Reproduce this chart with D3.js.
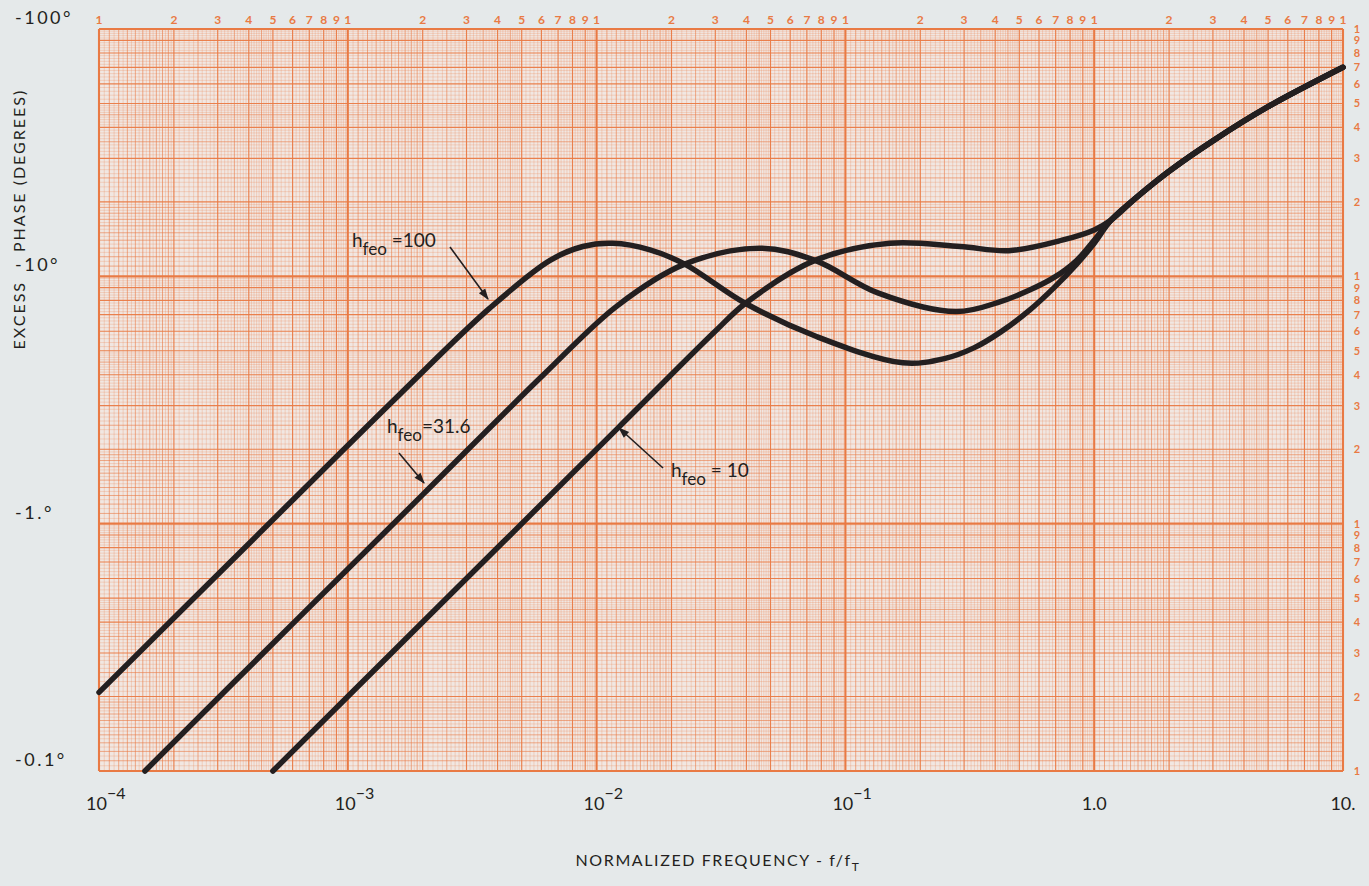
<!DOCTYPE html>
<meta charset="utf-8" />
<script src="https://d3js.org/d3.v7.min.js"></script>
<body style="margin:0;background:#e5e9ea">
  <div id="chart"></div>

  <script>
    // values (frequency is f/fT, phase is degrees, shown negative)
    var freq100 = [1e-4, 4e-4, 1.6e-3, 3.7e-3, 6.5e-3, 8.8e-3, 0.0116, 0.0164, 0.0226, 0.0394, 0.0769, 0.17, 0.25, 0.33, 0.42, 0.55, 0.69, 0.85, 1.0, 1.17, 1.5, 2.0, 3.0, 5.0, 10];
    var phase100 = [0.208, 0.83, 3.3, 7.4, 11.6, 13.2, 13.6, 12.8, 11.2, 7.8, 5.7, 4.47, 4.65, 5.15, 5.95, 7.3, 9.0, 11.2, 13.6, 16.9, 21.1, 26.6, 35.3, 48.5, 70];

    var freq31 = [1.53e-4, 6.4e-4, 2.0e-3, 6.1e-3, 0.0121, 0.0226, 0.0454, 0.0755, 0.135, 0.278, 0.42, 0.55, 0.69, 0.85, 1.0, 1.17, 1.5, 2.0, 3.0, 5.0, 10];
    var phase31 = [0.1, 0.42, 1.31, 3.99, 7.6, 11.2, 13.0, 11.6, 8.57, 7.2, 7.9, 8.8, 9.9, 11.6, 14.0, 16.9, 21.1, 26.6, 35.3, 48.5, 70];

    var freq10 = [5.0e-4, 1.6e-3, 0.0122, 0.0299, 0.0398, 0.0755, 0.151, 0.289, 0.454, 0.743, 1.0, 1.17, 1.5, 2.0, 3.0, 5.0, 10];
    var phase10 = [0.1, 0.32, 2.44, 5.98, 7.8, 11.6, 13.6, 13.2, 12.7, 14.0, 15.4, 16.9, 21.1, 26.6, 35.3, 48.5, 70];

    var xTickValues = [1e-4, 1e-3, 1e-2, 1e-1, 1, 10];
    var xTickBase = ["10", "10", "10", "10", "1.0", "10."];
    var xTickExp = ["\u22124", "\u22123", "\u22122", "\u22121", "", ""];
    var yTickValues = [0.1, 1, 10, 100];
    var yTickLabels = ["-0.1\u00b0", "-1.\u00b0", "-10\u00b0", "-100\u00b0"];
    var cycleDigits = ["2", "3", "4", "5", "6", "7", "8", "9"];

    var width = 1369, height = 886;
    var margin = { top: 29, right: 26, bottom: 115, left: 99 };
    var orange = "#e97a44";
    var ink = "#231f20";

    var svg = d3.select("#chart").append("svg")
      .attr("width", width)
      .attr("height", height)
      .style("font-family", "Lato, 'DejaVu Sans', sans-serif");

    var x = d3.scaleLog().domain([1e-4, 10]).range([margin.left, width - margin.right]);
    var y = d3.scaleLog().domain([0.1, 100]).range([height - margin.bottom, margin.top]);

    svg.append("rect")
      .attr("x", x(1e-4)).attr("y", y(100))
      .attr("width", x(10) - x(1e-4))
      .attr("height", y(0.1) - y(100))
      .attr("fill", "#f1e7e2");

    // log paper rulings: level 3 decade, 2 integer, 1 medium, 0 fine
    function rulings(lo, hi) {
      var out = [];
      for (var d = lo; d < hi; d++) {
        var base = Math.pow(10, d);
        for (var k = 100; k < 1000; ) {
          var lvl = 0;
          if (k === 100) lvl = 3;
          else if (k % 100 === 0) lvl = 2;
          else if (k < 200 && k % 10 === 0) lvl = 1;
          else if (k >= 200 && k < 500 && k % 50 === 0) lvl = 1;
          out.push({ v: base * k / 100, lvl: lvl });
          k += k < 200 ? 5 : k < 500 ? 10 : 20;
        }
      }
      out.push({ v: Math.pow(10, hi), lvl: 3 });
      return out;
    }
    var sw = [0.45, 0.75, 1.15, 2.1];
    var op = [0.55, 0.8, 0.95, 1];

    var grid = svg.append("g");
    grid.selectAll(".vx")
      .data(rulings(-4, 1))
      .enter().append("line")
      .attr("x1", function (d) { return x(d.v); })
      .attr("x2", function (d) { return x(d.v); })
      .attr("y1", y(0.1)).attr("y2", y(100))
      .attr("stroke", orange)
      .attr("stroke-width", function (d) { return sw[d.lvl]; })
      .attr("stroke-opacity", function (d) { return op[d.lvl]; });
    grid.selectAll(".hy")
      .data(rulings(-1, 2))
      .enter().append("line")
      .attr("y1", function (d) { return y(d.v); })
      .attr("y2", function (d) { return y(d.v); })
      .attr("x1", x(1e-4)).attr("x2", x(10))
      .attr("stroke", orange)
      .attr("stroke-width", function (d) { return sw[d.lvl]; })
      .attr("stroke-opacity", function (d) { return op[d.lvl]; });

    // orange cycle numbers on top and right
    var topLab = svg.append("g")
      .attr("fill", orange)
      .attr("font-size", 12)
      .attr("font-weight", "bold")
      .attr("text-anchor", "middle");
    for (var d = -4; d <= 1; d++) {
      var b = Math.pow(10, d);
      topLab.append("text").attr("x", x(b)).attr("y", 24).text("1");
      if (d < 1) {
        cycleDigits.forEach(function (t) {
          topLab.append("text").attr("x", x(b * +t)).attr("y", 24).text(t);
        });
      }
    }
    var rightLab = svg.append("g")
      .attr("fill", orange)
      .attr("font-size", 11)
      .attr("font-weight", "bold")
      .attr("text-anchor", "middle");
    for (var e = -1; e <= 2; e++) {
      var c = Math.pow(10, e);
      rightLab.append("text").attr("x", 1357).attr("y", y(c) + 4).text("1");
      if (e < 2) {
        cycleDigits.forEach(function (t) {
          rightLab.append("text").attr("x", 1357).attr("y", y(c * +t) + 4).text(t);
        });
      }
    }

    // curves
    var line = d3.line()
      .x(function (d) { return x(d[0]); })
      .y(function (d) { return y(d[1]); })
      .curve(d3.curveCatmullRom.alpha(0.5));

    var series = [d3.zip(freq100, phase100), d3.zip(freq31, phase31), d3.zip(freq10, phase10)];
    svg.append("g").selectAll("path")
      .data(series)
      .enter().append("path")
      .attr("d", line)
      .attr("fill", "none")
      .attr("stroke", ink)
      .attr("stroke-width", 5.5)
      .attr("stroke-linecap", "round");

    // axis labels
    svg.append("g").selectAll("text")
      .data(yTickValues)
      .enter().append("text")
      .attr("x", 15)
      .attr("y", function (d) { return y(d) - 5; })
      .attr("font-size", 18)
      .attr("letter-spacing", 2.5)
      .attr("fill", ink)
      .text(function (d, i) { return yTickLabels[i]; });

    var xl = svg.append("g").selectAll("text")
      .data(xTickValues)
      .enter().append("text")
      .attr("x", function (d) { return x(d); })
      .attr("y", 810)
      .attr("font-size", 18)
      .attr("fill", ink)
      .attr("text-anchor", function (d, i) { return xTickExp[i] ? "start" : "middle"; })
      .attr("dx", function (d, i) { return xTickExp[i] ? -13 : 0; });
    xl.append("tspan").text(function (d, i) { return xTickBase[i]; });
    xl.append("tspan")
      .attr("dy", -11)
      .attr("font-size", 16)
      .text(function (d, i) { return xTickExp[i]; });

    // y title, split so the -10° label sits in the gap
    svg.append("text")
      .attr("transform", "translate(25,281) rotate(-90)")
      .attr("text-anchor", "end")
      .attr("font-size", 16)
      .attr("letter-spacing", 2)
      .attr("fill", ink)
      .text("EXCESS");
    svg.append("text")
      .attr("transform", "translate(25,252) rotate(-90)")
      .attr("text-anchor", "start")
      .attr("font-size", 16)
      .attr("letter-spacing", 2)
      .attr("fill", ink)
      .text("PHASE  (DEGREES)");

    var xt = svg.append("text")
      .attr("x", 718)
      .attr("y", 866)
      .attr("text-anchor", "middle")
      .attr("font-size", 16)
      .attr("letter-spacing", 1.6)
      .attr("fill", ink);
    xt.append("tspan").text("NORMALIZED FREQUENCY - f/f");
    xt.append("tspan").attr("dy", 5).attr("font-size", 12).text("T");

    // curve labels with arrows
    svg.append("defs").append("marker")
      .attr("id", "head")
      .attr("viewBox", "0 0 10 10")
      .attr("refX", 9).attr("refY", 5)
      .attr("markerWidth", 9).attr("markerHeight", 7)
      .attr("orient", "auto")
      .append("path")
      .attr("d", "M0,1.5L10,5L0,8.5z")
      .attr("fill", ink);

    var notes = [
      { tx: 352, ty: 247, num: " =100", ax1: 450, ay1: 247, ax2: 488, ay2: 299 },
      { tx: 387, ty: 433, num: "=31.6", ax1: 399, ay1: 453, ax2: 424, ay2: 483 },
      { tx: 671, ty: 477, num: " = 10", ax1: 663, ay1: 468, ax2: 619, ay2: 428 }
    ];
    var ng = svg.append("g").attr("fill", ink);
    notes.forEach(function (n) {
      var t = ng.append("text").attr("x", n.tx).attr("y", n.ty).attr("font-size", 19);
      t.append("tspan").text("h");
      t.append("tspan").attr("dy", 8).attr("font-size", 17).text("feo");
      t.append("tspan").attr("dy", -8).text(n.num);
      ng.append("line")
        .attr("x1", n.ax1).attr("y1", n.ay1)
        .attr("x2", n.ax2).attr("y2", n.ay2)
        .attr("stroke", ink)
        .attr("stroke-width", 1.6)
        .attr("marker-end", "url(#head)");
    });
  </script>
</body>
